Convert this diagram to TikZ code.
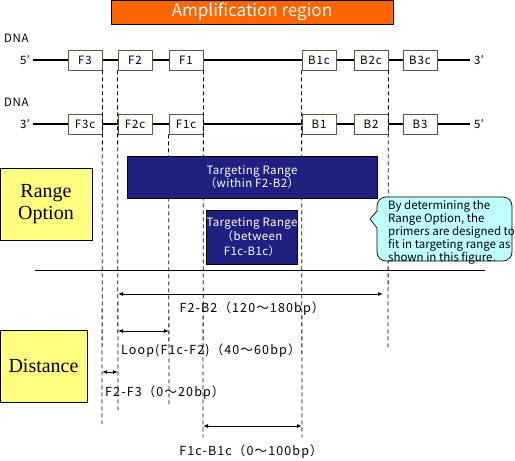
\documentclass[tikz,border=0pt]{standalone}
\usepackage{fontspec}
\setmainfont{Liberation Serif}
\newfontfamily\gothic{Noto Sans CJK JP}
\usetikzlibrary{arrows.meta}
\definecolor{ampor}{RGB}{255,102,0}
\definecolor{navyb}{RGB}{32,32,128}
\definecolor{yel}{RGB}{255,255,128}
\definecolor{cyanc}{RGB}{192,255,255}
\definecolor{segb}{RGB}{90,90,70}
\begin{document}
\begin{tikzpicture}[x=1pt,y=-1pt,
  seg/.style={draw=segb, line width=0.9pt, fill=white, minimum width=34pt, minimum height=20pt, inner sep=0pt, font=\gothic\addfontfeatures{LetterSpace=8}\fontsize{11.5}{11.5}\selectfont},
  strand/.style={line width=2.2pt, draw=black},
  endlab/.style={inner sep=0pt, font=\gothic\fontsize{11.5}{11.5}\selectfont},
  dnalab/.style={inner sep=0pt, anchor=west, font=\gothic\addfontfeatures{LetterSpace=5}\fontsize{11.5}{11.5}\selectfont},
  guide/.style={draw=black, line width=0.8pt, dash pattern=on 4pt off 3pt},
  target/.style={draw=black, line width=0.6pt, fill=navyb, text=white, inner sep=0pt, align=center, font=\gothic\addfontfeatures{LetterSpace=3}\fontsize{11.5}{13}\selectfont},
  optbox/.style={draw=black, line width=0.8pt, fill=yel, inner sep=0pt, align=center, font=\fontsize{20}{22}\selectfont},
  dim/.style={line width=0.9pt, {Latex[length=5pt,width=4pt]}-{Latex[length=5pt,width=4pt]}},
  dimlab/.style={inner sep=0pt, font=\gothic\addfontfeatures{LetterSpace=9}\fontsize{12.5}{12.5}\selectfont}
]
\useasboundingbox (0,0) rectangle (515,461);

% amplification region
\node[draw=black, line width=0.8pt, fill=ampor, text=white, minimum width=282pt, minimum height=24pt, inner sep=0pt, font=\gothic\fontsize{17}{17}\selectfont] (amp) at (252,12) {Amplification region};

% top strand
\node[dnalab] (dna1) at (4,38) {DNA};
\node[endlab] (t5) at (25,60) {5′};
\node[endlab] (t3) at (479,60) {3′};
\coordinate (ts) at (33,60);
\coordinate (te) at (470,60);
\draw[strand] (ts) -- (te);
\node[seg] (F3) at (85,60) {F3};
\node[seg] (F2) at (135,60) {F2};
\node[seg] (F1) at (186,60) {F1};
\node[seg] (B1c) at (319,60) {B1c};
\node[seg] (B2c) at (371,60) {B2c};
\node[seg] (B3c) at (420,60) {B3c};

% bottom strand
\node[dnalab] (dna2) at (4,102) {DNA};
\node[endlab] (b3) at (25,124) {3′};
\node[endlab] (b5) at (479,124) {5′};
\coordinate (bs) at (33,124);
\coordinate (be) at (470,124);
\draw[strand] (bs) -- (be);
\node[seg] (F3c) at (85,124) {F3c};
\node[seg] (F2c) at (135,124) {F2c};
\node[seg] (F1c) at (186,124) {F1c};
\node[seg] (B1) at (319,124) {B1};
\node[seg] (B2) at (371,124) {B2};
\node[seg] (B3) at (420,124) {B3};

% guide lines
\coordinate (g1) at (102,424);
\coordinate (g2) at (118,413);
\coordinate (g3) at (169,406);
\coordinate (g4) at (203,437);
\coordinate (g5) at (302,437);
\coordinate (g6) at (388,348);
\draw[guide] (F3.south east) -- (g1);
\draw[guide] (F2.south west) -- (g2);
\draw[guide] (F1c.south west) -- (g3);
\draw[guide] (F1.south east) -- (g4);
\draw[guide] (B1c.south west) -- (g5);
\draw[guide] (B2c.south east) -- (g6);

% range option
\node[optbox, minimum width=92pt, minimum height=72pt] (ropt) at (46,204) {Range\\Option};
\node[target, minimum width=250pt, minimum height=42pt] (tr1) at (252,177) {Targeting Range\\（within F2-B2）};
\node[target, minimum width=90pt, minimum height=54pt, font=\gothic\addfontfeatures{LetterSpace=3}\fontsize{11.5}{14.5}\selectfont] (tr2) at (252,237) {Targeting Range\\（between\\F1c-B1c）};

% callout
\draw[draw=black, line width=0.7pt, fill=cyanc, rounded corners=9pt]
  (444,197) -- (512,197) -- (512,261) -- (377,261) [sharp corners] -- (377,228) -- (370,219) -- (377,211) [rounded corners=9pt] -- (377,197) -- cycle;
\node[anchor=north west, inner sep=0pt, align=left, font=\gothic\fontsize{11.5}{12}\selectfont] (call) at (388,200) {By determining the\\Range Option, the\\primers are designed to\\fit in targeting range as\\shown in this figure.};

% separator
\coordinate (sepL) at (35,270);
\coordinate (sepR) at (485,270);
\draw[line width=0.8pt] (sepL) -- (sepR);

% distance
\node[optbox, minimum width=87pt, minimum height=72pt] (dist) at (43.5,366) {Distance};

\coordinate (a1) at (118,294); \coordinate (a2) at (383,294);
\draw[dim] (a1) -- (a2);
\node[dimlab] (l1) at (252,309) {F2-B2（120〜180bp）};

\coordinate (c1) at (118,331); \coordinate (c2) at (169,331);
\draw[dim] (c1) -- (c2);
\node[dimlab, anchor=west] (l2) at (121,351) {Loop(F1c-F2)（40〜60bp）};

\coordinate (d1) at (102,372); \coordinate (d2) at (118,372);
\draw[dim] (d1) -- (d2);
\node[dimlab, anchor=west] (l3) at (105,393) {F2-F3（0〜20bp）};

\coordinate (e1) at (203,426); \coordinate (e2) at (302,426);
\draw[dim] (e1) -- (e2);
\node[dimlab] (l4) at (251,452) {F1c-B1c（0〜100bp）};
\end{tikzpicture}
\end{document}
